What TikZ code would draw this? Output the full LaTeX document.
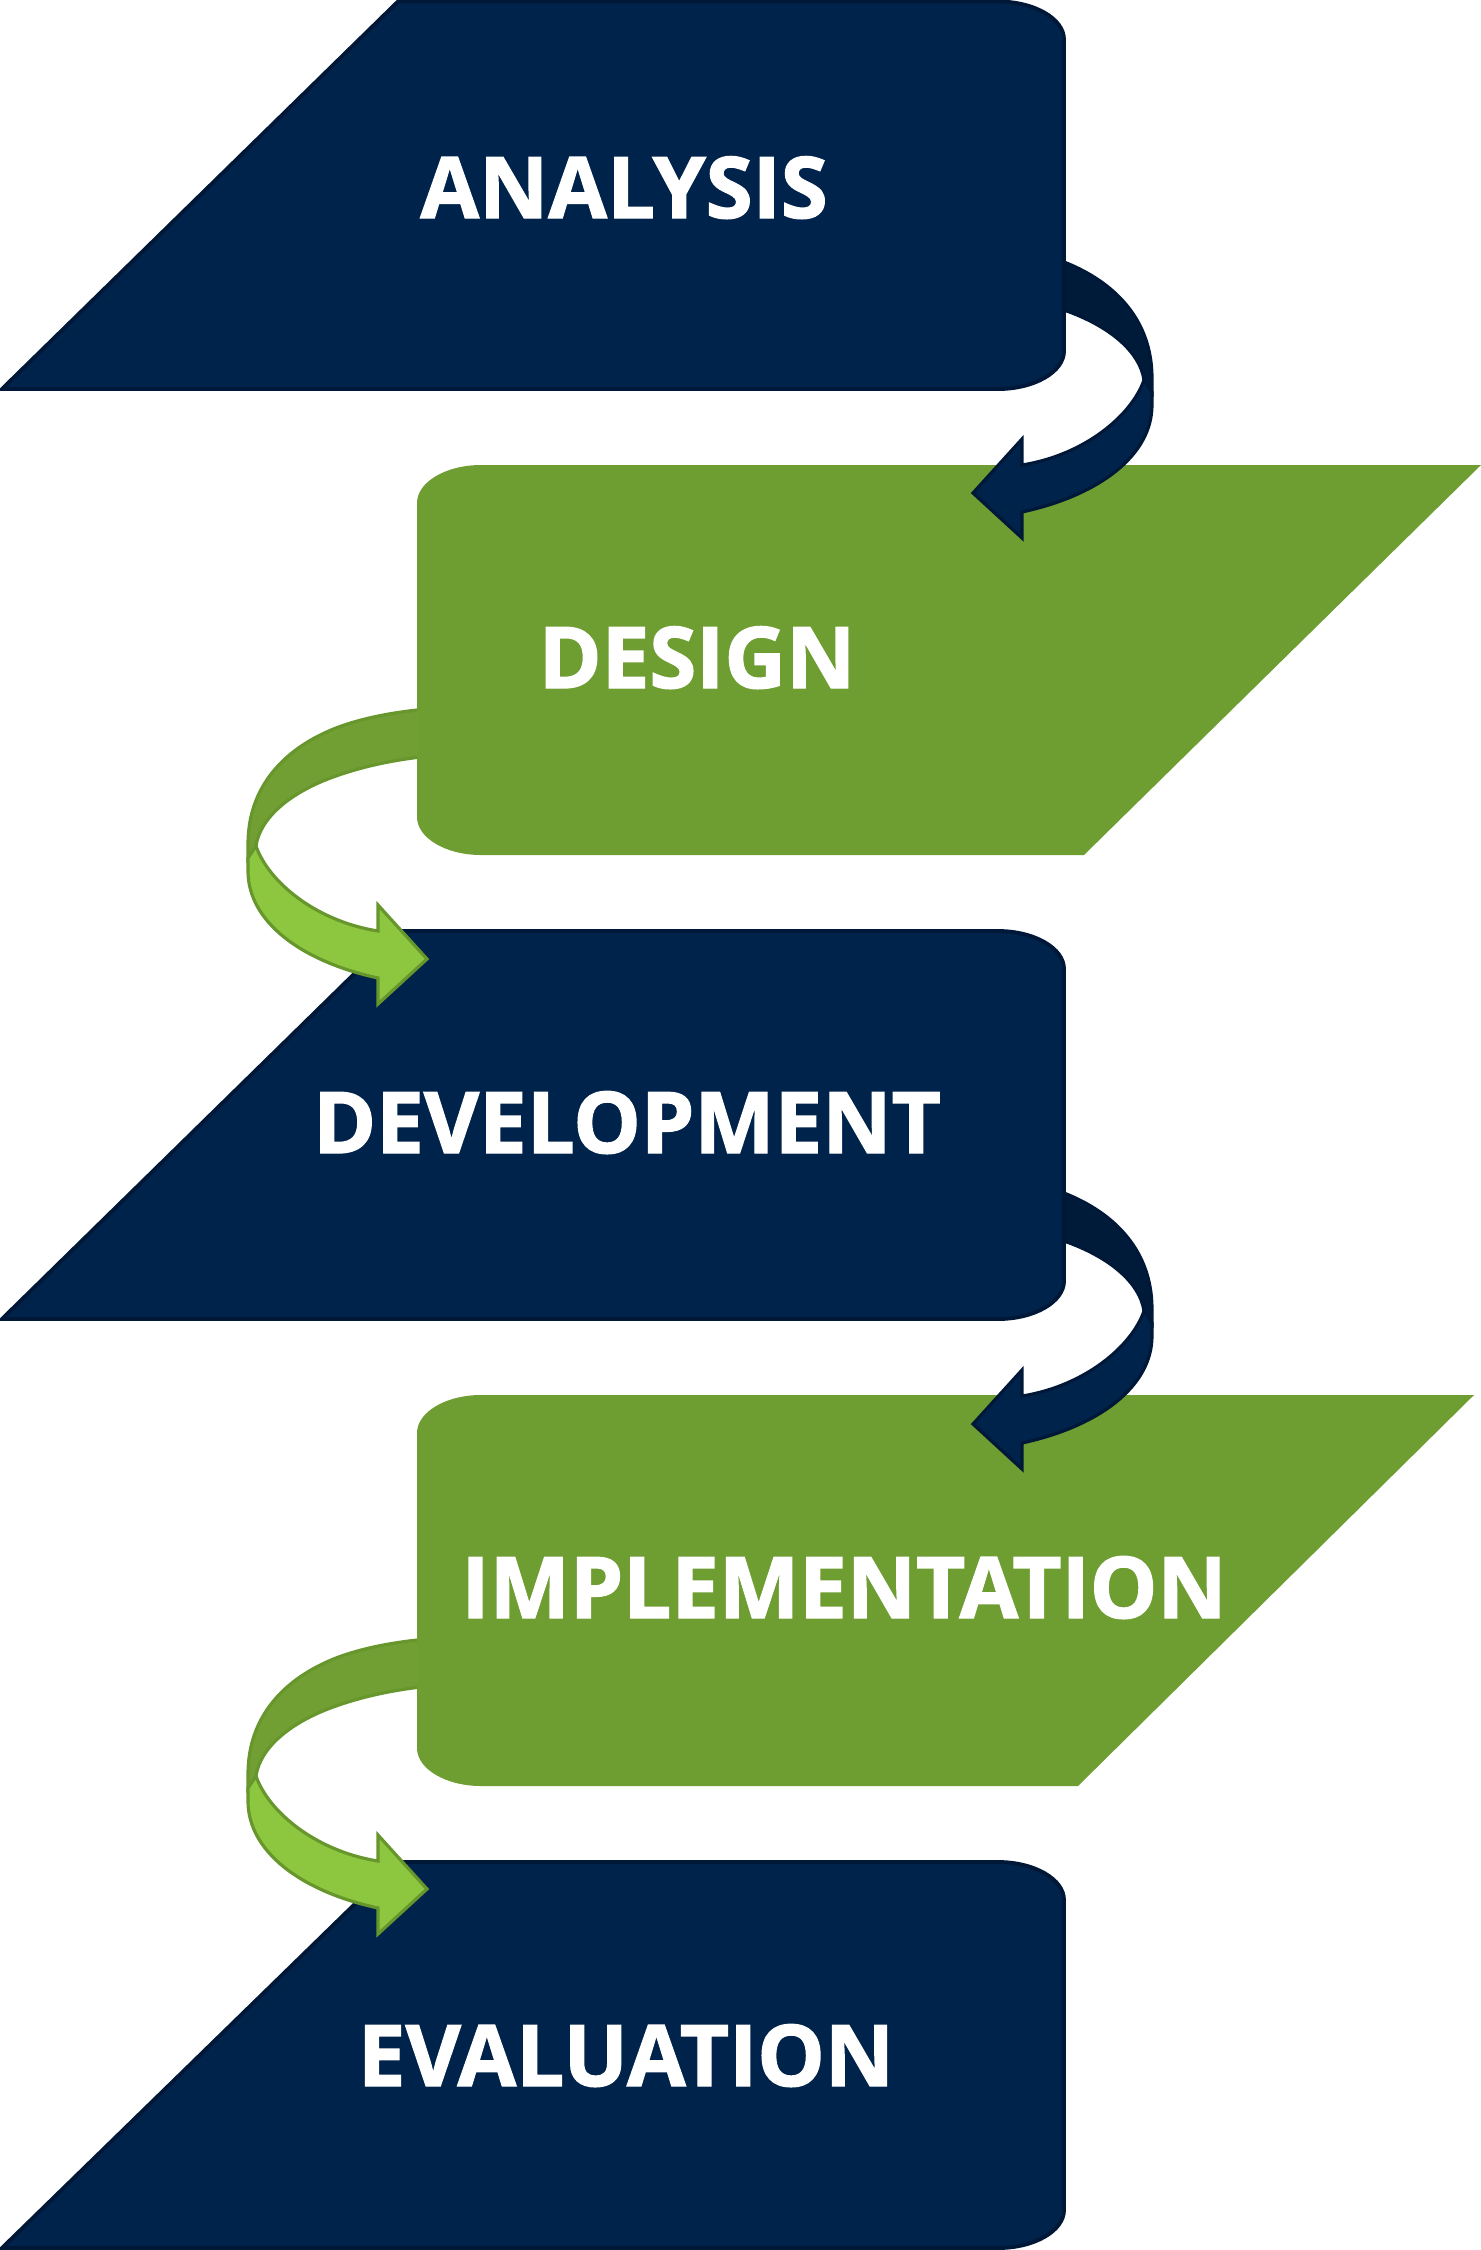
\documentclass[tikz,border=0pt]{standalone}
\usepackage{fontspec}
\setmainfont{Open Sans}
\newfontfamily\heavyfont[BoldFeatures={FakeBold=1.6}]{Open Sans}
\definecolor{navyfill}{RGB}{0,35,75}
\definecolor{navyline}{RGB}{0,24,56}
\definecolor{navyback}{RGB}{0,27,58}
\definecolor{greenfill}{RGB}{110,157,50}
\definecolor{greenback}{RGB}{114,159,52}
\definecolor{greenfront}{RGB}{141,198,63}
\definecolor{greenline}{RGB}{102,150,44}
\newcommand{\bandbackpath}[1]{%
  \filldraw[#1] (960,242) .. controls (990,244) and (1030,249) .. (1064,262)
    .. controls (1115,282) and (1152,320) .. (1152,378)
    -- (1152,392) -- (1144,380)
    .. controls (1140,352) and (1110,326) .. (1064,310)
    .. controls (1030,298) and (995,292) .. (960,289) -- cycle;}
\newcommand{\bandfrontpath}[1]{%
  \filldraw[#1] (1144,380) -- (1152,392) -- (1152,405)
    .. controls (1152,455) and (1100,495) .. (1022,512)
    -- (1022,538) -- (973,493) -- (1022,439) -- (1022,465)
    .. controls (1085,455) and (1132,415) .. (1144,380) -- cycle;}
\tikzset{
  navybox/.style={fill=navyfill, draw=navyline, line width=1.1pt, line join=miter},
  greenbox/.style={fill=greenfill},
  navybackband/.style={fill=navyback, draw=navyline, line width=0.9pt, line join=miter},
  navyfrontband/.style={fill=navyfill, draw=navyline, line width=0.9pt, line join=miter},
  greenbackband/.style={fill=greenback, draw=greenline, line width=0.9pt, line join=miter},
  greenfrontband/.style={fill=greenfront, draw=greenline, line width=0.9pt, line join=miter},
  label/.style={text=white, font=\heavyfont\fontsize{24.2pt}{28pt}\selectfont\bfseries, inner sep=0pt, anchor=base}
}
\begin{document}
\begin{tikzpicture}[x=0.01cm, y=-0.01cm]
\useasboundingbox (0,0) rectangle (1481,2250);
\fill[white] (0,0) rectangle (1481,2250);

% back bands of the curved arrows
\begin{scope}\bandbackpath{navybackband}\end{scope}
\begin{scope}[shift={(0,931)}]\bandbackpath{navybackband}\end{scope}
\begin{scope}[shift={(1400,466)}, xscale=-1]\bandbackpath{greenbackband}\end{scope}
\begin{scope}[shift={(1400,1396)}, xscale=-1]\bandbackpath{greenbackband}\end{scope}

% navy boxes
\foreach \t/\b in {1.5/389, 931/1319, 1862/2248}{
  \filldraw[navybox] (398,\t) -- (998,\t) .. controls (1034,\t) and (1064,\t+17) .. (1064,\t+38)
    -- (1064,\b-38) .. controls (1064,\b-17) and (1034,\b) .. (998,\b)
    -- (2,\b) -- cycle;
}
% green boxes
\foreach \t/\b/\r/\s in {465/855/1481/1084, 1395/1786/1474/1078}{
  \fill[greenbox] (481,\t) -- (\r,\t) -- (\s,\b) -- (481,\b)
    .. controls (446,\b) and (417,\b-17) .. (417,\b-38)
    -- (417,\t+38) .. controls (417,\t+17) and (446,\t) .. (481,\t) -- cycle;
}

% front bands with arrow heads
\begin{scope}\bandfrontpath{navyfrontband}\end{scope}
\begin{scope}[shift={(0,931)}]\bandfrontpath{navyfrontband}\end{scope}
\begin{scope}[shift={(1400,466)}, xscale=-1]\bandfrontpath{greenfrontband}\end{scope}
\begin{scope}[shift={(1400,1396)}, xscale=-1]\bandfrontpath{greenfrontband}\end{scope}

% labels
\node[label] (analysis) at (624,218) {ANALYSIS};
\node[label] (design) at (697,688) {DESIGN};
\node[label] (development) at (627,1153) {DEVELOPMENT};
\node[label] (implementation) at (844,1618) {IMPLEMENTATION};
\node[label] (evaluation) at (626,2086) {EVALUATION};
\end{tikzpicture}
\end{document}
